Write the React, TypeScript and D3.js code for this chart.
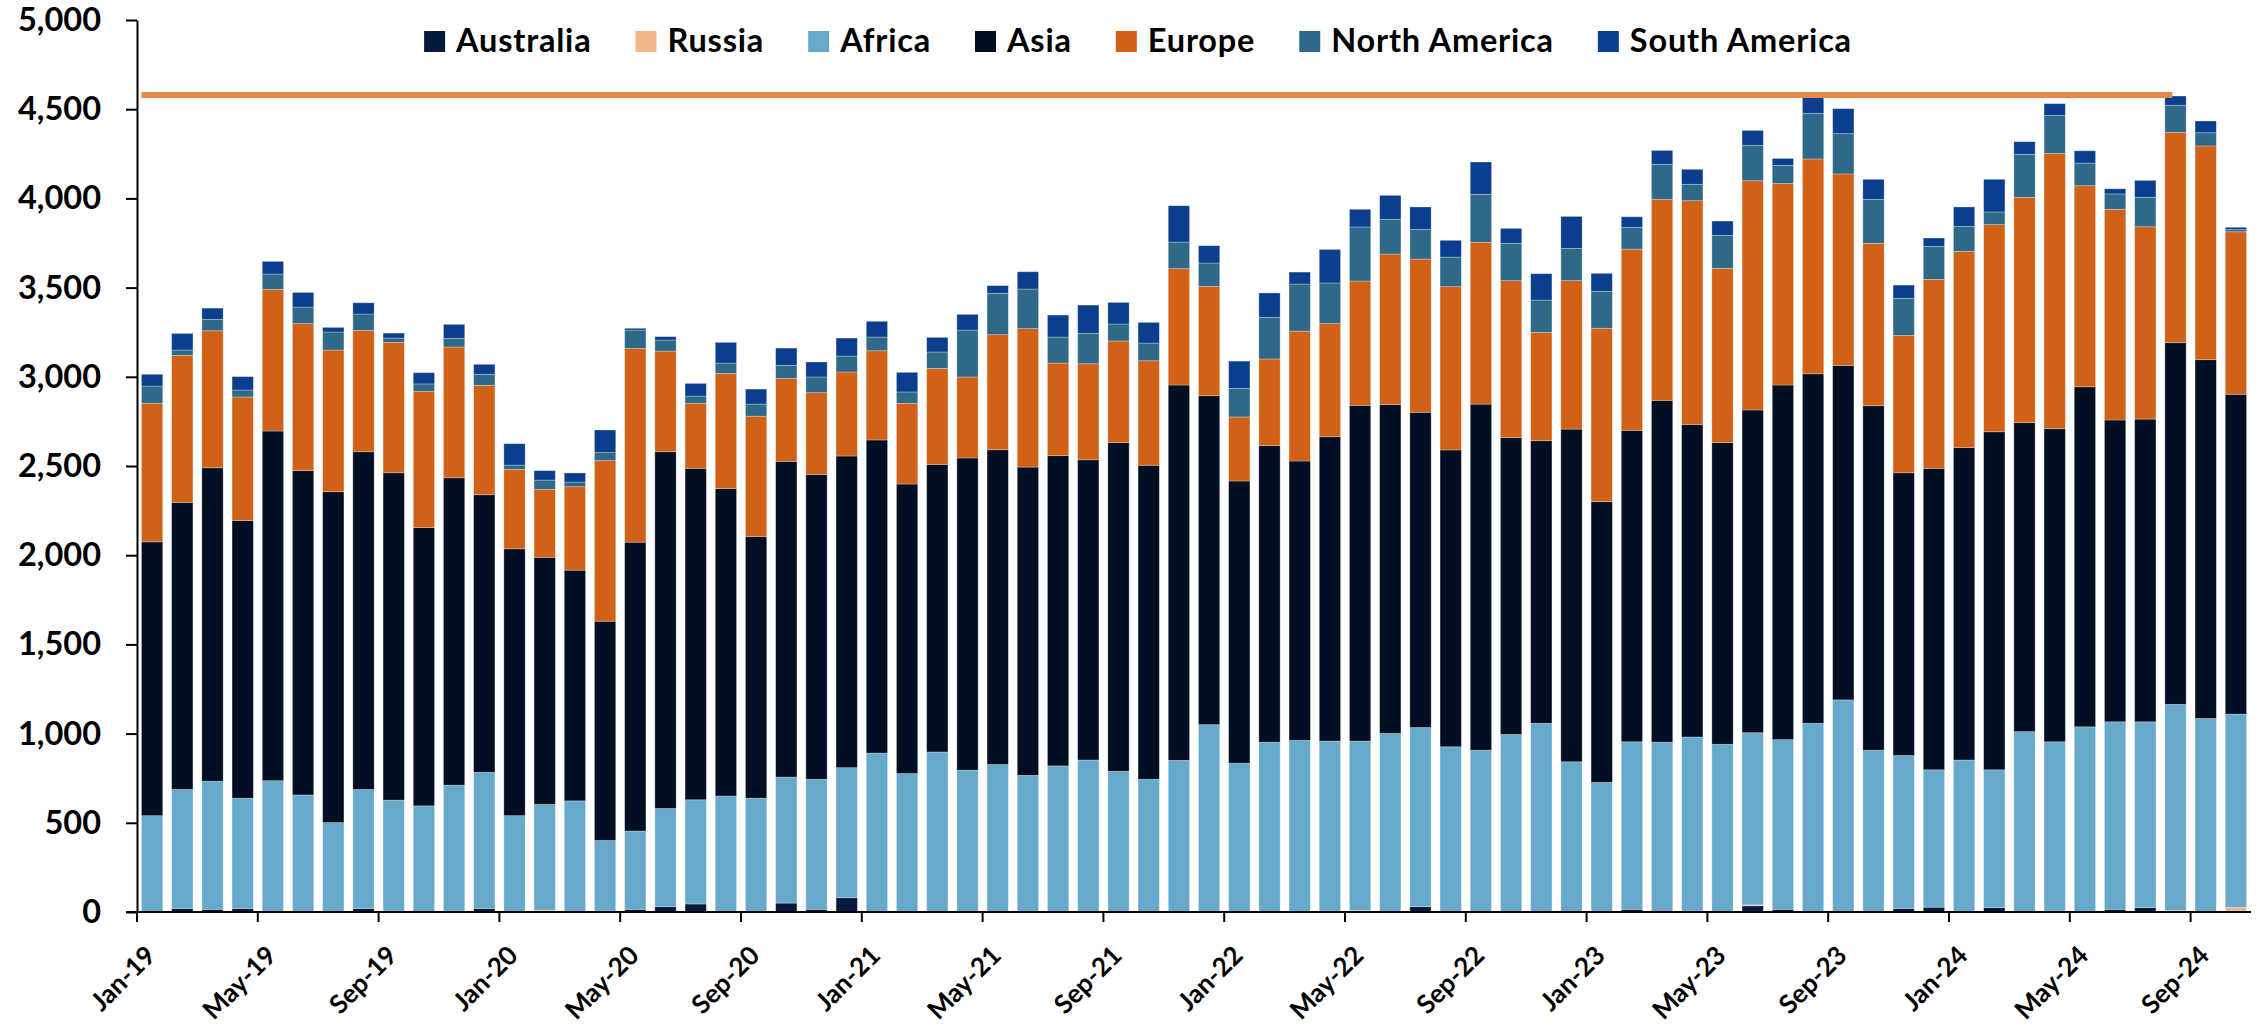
import React, { useEffect, useRef } from 'react';
import * as d3 from 'd3';

// monthly categories, Jan-19 .. Oct-24
const months = [
  'Jan-19', 'Feb-19', 'Mar-19', 'Apr-19', 'May-19', 'Jun-19', 'Jul-19', 'Aug-19', 'Sep-19', 'Oct-19', 'Nov-19', 'Dec-19',
  'Jan-20', 'Feb-20', 'Mar-20', 'Apr-20', 'May-20', 'Jun-20', 'Jul-20', 'Aug-20', 'Sep-20', 'Oct-20', 'Nov-20', 'Dec-20',
  'Jan-21', 'Feb-21', 'Mar-21', 'Apr-21', 'May-21', 'Jun-21', 'Jul-21', 'Aug-21', 'Sep-21', 'Oct-21', 'Nov-21', 'Dec-21',
  'Jan-22', 'Feb-22', 'Mar-22', 'Apr-22', 'May-22', 'Jun-22', 'Jul-22', 'Aug-22', 'Sep-22', 'Oct-22', 'Nov-22', 'Dec-22',
  'Jan-23', 'Feb-23', 'Mar-23', 'Apr-23', 'May-23', 'Jun-23', 'Jul-23', 'Aug-23', 'Sep-23', 'Oct-23', 'Nov-23', 'Dec-23',
  'Jan-24', 'Feb-24', 'Mar-24', 'Apr-24', 'May-24', 'Jun-24', 'Jul-24', 'Aug-24', 'Sep-24', 'Oct-24'
];

const australia = [
  0, 20, 15, 20, 0, 0, 0, 20, 0, 0, 5, 20,
  0, 0, 0, 5, 15, 30, 45, 0, 0, 50, 15, 80,
  0, 0, 0, 0, 0, 0, 0, 0, 0, 0, 0, 0,
  0, 0, 0, 0, 0, 0, 30, 0, 0, 0, 0, 0,
  0, 15, 10, 5, 0, 35, 15, 0, 0, 0, 20, 27,
  0, 25, 0, 5, 0, 15, 25, 0, 0, 0
];

const russia = [
  0, 0, 0, 0, 0, 0, 0, 0, 5, 0, 0, 0,
  0, 10, 0, 0, 0, 0, 0, 0, 0, 0, 0, 0,
  0, 0, 0, 0, 0, 0, 0, 0, 0, 0, 0, 0,
  0, 0, 0, 5, 8, 0, 0, 0, 0, 0, 0, 0,
  0, 0, 0, 0, 0, 5, 0, 0, 0, 0, 0, 0,
  0, 0, 0, 0, 0, 0, 0, 8, 0, 25
];

const africa = [
  540, 667, 718, 618, 736, 656, 501, 667, 622, 595, 706, 763,
  540, 593, 623, 396, 439, 550, 584, 650, 638, 706, 729, 729,
  891, 776, 897, 795, 827, 766, 819, 852, 789, 744, 850, 1050,
  834, 952, 962, 953, 950, 1001, 1004, 926, 907, 995, 1058, 842,
  727, 939, 942, 976, 940, 965, 951, 1058, 1189, 907, 857, 770,
  852, 772, 1011, 949, 1038, 1051, 1041, 1156, 1085, 1084
];

const asia = [
  1535, 1609, 1757, 1556, 1960, 1818, 1855, 1893, 1835, 1560, 1723, 1556,
  1496, 1385, 1293, 1229, 1619, 2000, 1858, 1723, 1466, 1770, 1709, 1747,
  1755, 1623, 1612, 1750, 1764, 1728, 1739, 1683, 1842, 1760, 2104, 1844,
  1582, 1662, 1566, 1706, 1882, 1843, 1767, 1664, 1940, 1664, 1584, 1865,
  1573, 1746, 1916, 1752, 1691, 1809, 1988, 1959, 1875, 1931, 1585, 1690,
  1751, 1895, 1732, 1755, 1906, 1692, 1697, 2027, 2011, 1793
];

const europe = [
  776, 824, 768, 693, 794, 824, 794, 680, 731, 763, 733, 613,
  445, 381, 468, 900, 1086, 564, 364, 646, 675, 465, 458, 471,
  500, 452, 538, 454, 645, 776, 519, 538, 570, 586, 652, 613,
  359, 486, 728, 634, 697, 844, 859, 915, 907, 880, 607, 832,
  972, 1016, 1127, 1254, 977, 1285, 1130, 1204, 1073, 910, 770, 1059,
  1100, 1161, 1263, 1543, 1127, 1181, 1078, 1179, 1198, 911
];

const northAmerica = [
  97, 30, 64, 39, 86, 93, 101, 92, 24, 42, 48, 62,
  24, 52, 26, 45, 103, 62, 41, 58, 68, 73, 88, 89,
  77, 64, 92, 263, 232, 222, 146, 170, 95, 99, 149, 131,
  160, 233, 264, 228, 303, 195, 166, 166, 269, 209, 181, 181,
  207, 122, 196, 92, 185, 198, 101, 256, 226, 247, 208, 185,
  140, 71, 241, 213, 127, 86, 165, 152, 74, 12
];

const southAmerica = [
  66, 93, 63, 75, 71, 82, 26, 63, 28, 63, 79, 56,
  120, 53, 51, 127, 10, 19, 71, 116, 84, 97, 84, 101,
  88, 110, 82, 88, 43, 97, 123, 159, 121, 116, 204, 97,
  153, 137, 67, 188, 99, 134, 126, 94, 181, 84, 148, 179,
  101, 59, 78, 84, 80, 84, 39, 88, 140, 112, 74, 47,
  109, 183, 71, 66, 69, 29, 95, 52, 66, 13
];

const seriesNames = ['Australia', 'Russia', 'Africa', 'Asia', 'Europe', 'North America', 'South America'];
const seriesColors = ['#05193D', '#F4B58A', '#67A9CB', '#020F23', '#D06117', '#306987', '#0B3F8E'];
const seriesValues = [australia, russia, africa, asia, europe, northAmerica, southAmerica];

const yTicks = [0, 500, 1000, 1500, 2000, 2500, 3000, 3500, 4000, 4500, 5000];
const xLabelMonths = months.filter((m, i) => i % 4 === 0);

// horizontal orange reference line
const referenceLevel = 4580;
const referenceSpan = ['Jan-19', 'Aug-24'];

const width = 2260;
const height = 1028;
const margin = { left: 137, right: 9, top: 20, bottom: 116 };
const font = 'Lato, "Open Sans", sans-serif';

export default function App() {
  const svgRef = useRef<SVGSVGElement>(null);

  useEffect(() => {
    const svg = d3.select(svgRef.current);
    svg.selectAll('*').remove();

    const rows = months.map((m, i) => {
      const row: any = { month: m };
      seriesNames.forEach((name, k) => { row[name] = seriesValues[k][i]; });
      return row;
    });
    const layers = d3.stack().keys(seriesNames)(rows);

    const x = d3.scaleBand()
      .domain(months)
      .range([margin.left, width - margin.right])
      .paddingInner(0.295)
      .paddingOuter(0.1475);
    const y = d3.scaleLinear().domain([0, 5000]).range([height - margin.bottom, margin.top]);
    const gap = (x.step() - x.bandwidth()) / 2;

    // bars
    const barArea = svg.append('g');
    barArea.selectAll('g.layer')
      .data(layers)
      .enter().append('g')
      .attr('class', 'layer')
      .attr('fill', (d, i) => seriesColors[i])
      .selectAll('rect')
      .data((d) => d.filter((s) => s[1] - s[0] > 0))
      .enter().append('rect')
      .attr('x', (d: any) => x(d.data.month))
      .attr('width', x.bandwidth())
      .attr('y', (d) => y(d[1]))
      .attr('height', (d) => y(d[0]) - y(d[1]))
      .attr('stroke', 'rgba(255,255,255,0.35)')
      .attr('stroke-width', 0.8);

    // reference line
    const line = d3.line<string>()
      .x((m, i) => (i === 0 ? x(m) : x(m) + x.bandwidth() * 0.35))
      .y(() => y(referenceLevel));
    svg.append('path')
      .attr('d', line(referenceSpan))
      .attr('fill', 'none')
      .attr('stroke', '#E8894A')
      .attr('stroke-width', 6);

    // y axis
    const yAxis = svg.append('g')
      .attr('transform', `translate(${margin.left}, 0)`)
      .call(d3.axisLeft(y).tickValues(yTicks).tickSize(11).tickSizeOuter(0).tickPadding(25).tickFormat(d3.format(',')));
    yAxis.select('.domain').attr('stroke', '#000').attr('stroke-width', 2);
    yAxis.selectAll('.tick line').attr('stroke', '#000').attr('stroke-width', 2);
    yAxis.selectAll('.tick text')
      .attr('fill', '#000')
      .style('font-family', font)
      .style('font-weight', 700)
      .style('font-size', '32.5px');

    // x axis: ticks on category boundaries, labels rotated
    const y0 = y(0);
    const xAxis = svg.append('g');
    xAxis.append('line')
      .attr('x1', margin.left - 11).attr('x2', width - margin.right)
      .attr('y1', y0).attr('y2', y0)
      .attr('stroke', '#000').attr('stroke-width', 2);
    xAxis.selectAll('line.tick')
      .data(xLabelMonths)
      .enter().append('line')
      .attr('class', 'tick')
      .attr('x1', (m) => x(m) - gap).attr('x2', (m) => x(m) - gap)
      .attr('y1', y0).attr('y2', y0 + 10)
      .attr('stroke', '#000').attr('stroke-width', 2);
    xAxis.selectAll('text')
      .data(xLabelMonths)
      .enter().append('text')
      .attr('transform', (m) => `translate(${x(m) + x.bandwidth() / 2 + 5}, ${y0 + 45}) rotate(-45)`)
      .attr('text-anchor', 'end')
      .style('font-family', font)
      .style('font-weight', 700)
      .style('font-size', '26px')
      .text((m) => m);

    // legend
    const legend = svg.append('g');
    let cursor = 0;
    seriesNames.forEach((name, i) => {
      const item = legend.append('g').attr('transform', `translate(${cursor}, 0)`);
      item.append('rect')
        .attr('x', 0).attr('y', 31)
        .attr('width', 21).attr('height', 21)
        .attr('fill', seriesColors[i]);
      const label = item.append('text')
        .attr('x', 32).attr('y', 52)
        .style('font-family', font)
        .style('font-weight', 700)
        .style('font-size', '32.5px')
        .style('letter-spacing', '0.8px')
        .text(name);
      const w = (label.node() as SVGTextElement).getComputedTextLength();
      cursor += 32 + w + 44;
    });
    const total = cursor - 44;
    legend.attr('transform', `translate(${1138 - total / 2}, 0)`);
  }, []);

  return (
    <svg
      ref={svgRef}
      width={width}
      height={height}
      style={{ position: 'absolute', left: 0, top: 0, background: '#fff' }}
    />
  );
}
